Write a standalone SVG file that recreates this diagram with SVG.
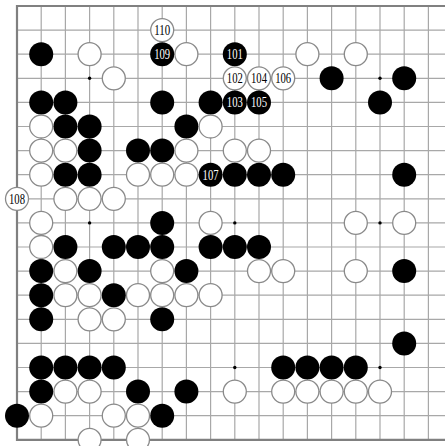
<svg xmlns="http://www.w3.org/2000/svg" width="445" height="446" viewBox="0 0 445 446">
<style>
.g{stroke:#a8a8a8;stroke-width:1.2;fill:none}
.e{stroke:#808080;stroke-width:2.2;fill:none}
.b{fill:#000}
.w{fill:#fff;stroke:#8a8a8a;stroke-width:1.3}
.h{fill:#000}
.t{font-family:"Liberation Serif",serif;font-size:14px;text-anchor:middle}
.tb{fill:#fff}
.tw{fill:#000}
</style>
<rect width="445" height="446" fill="#fff"/>
<g id="grid">
<path class="g" d="M17,30.1H445M17,54.2H445M17,78.3H445M17,102.4H445M17,126.5H445M17,150.6H445M17,174.7H445M17,198.8H445M17,222.9H445M17,247H445M17,271.1H445M17,295.2H445M17,319.3H445M17,343.4H445M17,367.5H445M17,391.6H445M17,415.7H445"/>
<path class="g" d="M41.2,6V439.8M65.4,6V439.8M89.6,6V439.8M113.8,6V439.8M138,6V439.8M162.2,6V439.8M186.4,6V439.8M210.6,6V439.8M234.8,6V439.8M259,6V439.8M283.2,6V439.8M307.4,6V439.8M331.6,6V439.8M355.8,6V439.8M380,6V439.8M404.2,6V439.8M428.4,6V439.8"/>
<path class="e" d="M445,6H17V439.8H445"/>
<g class="h">
<circle cx="89.6" cy="78.3" r="1.7"/><circle cx="380" cy="78.3" r="1.7"/>
<circle cx="89.6" cy="222.9" r="1.7"/><circle cx="234.8" cy="222.9" r="1.7"/><circle cx="380" cy="222.9" r="1.7"/>
<circle cx="89.6" cy="367.5" r="1.7"/><circle cx="234.8" cy="367.5" r="1.7"/><circle cx="380" cy="367.5" r="1.7"/>
</g>
</g>
<g id="connectors"/>
<g id="black-stones" class="b">
<circle cx="41.2" cy="54.2" r="12"/>
<circle cx="331.6" cy="78.3" r="12"/><circle cx="404.2" cy="78.3" r="12"/>
<circle cx="41.2" cy="102.4" r="12"/><circle cx="65.4" cy="102.4" r="12"/><circle cx="162.2" cy="102.4" r="12"/><circle cx="210.6" cy="102.4" r="12"/><circle cx="380" cy="102.4" r="12"/>
<circle cx="65.4" cy="126.5" r="12"/><circle cx="89.6" cy="126.5" r="12"/><circle cx="186.4" cy="126.5" r="12"/>
<circle cx="89.6" cy="150.6" r="12"/><circle cx="138" cy="150.6" r="12"/><circle cx="162.2" cy="150.6" r="12"/>
<circle cx="65.4" cy="174.7" r="12"/><circle cx="89.6" cy="174.7" r="12"/><circle cx="234.8" cy="174.7" r="12"/><circle cx="259" cy="174.7" r="12"/><circle cx="283.2" cy="174.7" r="12"/><circle cx="404.2" cy="174.7" r="12"/>
<circle cx="162.2" cy="222.9" r="12"/>
<circle cx="65.4" cy="247" r="12"/><circle cx="113.8" cy="247" r="12"/><circle cx="138" cy="247" r="12"/><circle cx="162.2" cy="247" r="12"/><circle cx="210.6" cy="247" r="12"/><circle cx="234.8" cy="247" r="12"/><circle cx="259" cy="247" r="12"/>
<circle cx="41.2" cy="271.1" r="12"/><circle cx="89.6" cy="271.1" r="12"/><circle cx="186.4" cy="271.1" r="12"/><circle cx="404.2" cy="271.1" r="12"/>
<circle cx="41.2" cy="295.2" r="12"/><circle cx="113.8" cy="295.2" r="12"/>
<circle cx="41.2" cy="319.3" r="12"/><circle cx="162.2" cy="319.3" r="12"/>
<circle cx="404.2" cy="343.4" r="12"/>
<circle cx="41.2" cy="367.5" r="12"/><circle cx="65.4" cy="367.5" r="12"/><circle cx="89.6" cy="367.5" r="12"/><circle cx="113.8" cy="367.5" r="12"/><circle cx="283.2" cy="367.5" r="12"/><circle cx="307.4" cy="367.5" r="12"/><circle cx="331.6" cy="367.5" r="12"/><circle cx="355.8" cy="367.5" r="12"/>
<circle cx="41.2" cy="391.6" r="12"/><circle cx="138" cy="391.6" r="12"/><circle cx="186.4" cy="391.6" r="12"/>
<circle cx="17" cy="415.7" r="12"/><circle cx="162.2" cy="415.7" r="12"/>
</g>
<g id="white-stones" class="w">
<circle cx="89.6" cy="54.2" r="11.5"/><circle cx="186.4" cy="54.2" r="11.5"/><circle cx="307.4" cy="54.2" r="11.5"/><circle cx="355.8" cy="54.2" r="11.5"/>
<circle cx="113.8" cy="78.3" r="11.5"/>
<circle cx="41.2" cy="126.5" r="11.5"/><circle cx="210.6" cy="126.5" r="11.5"/>
<circle cx="41.2" cy="150.6" r="11.5"/><circle cx="65.4" cy="150.6" r="11.5"/><circle cx="186.4" cy="150.6" r="11.5"/><circle cx="234.8" cy="150.6" r="11.5"/><circle cx="259" cy="150.6" r="11.5"/>
<circle cx="41.2" cy="174.7" r="11.5"/><circle cx="138" cy="174.7" r="11.5"/><circle cx="162.2" cy="174.7" r="11.5"/><circle cx="186.4" cy="174.7" r="11.5"/>
<circle cx="65.4" cy="198.8" r="11.5"/><circle cx="89.6" cy="198.8" r="11.5"/><circle cx="113.8" cy="198.8" r="11.5"/>
<circle cx="41.2" cy="222.9" r="11.5"/><circle cx="210.6" cy="222.9" r="11.5"/><circle cx="355.8" cy="222.9" r="11.5"/><circle cx="404.2" cy="222.9" r="11.5"/>
<circle cx="41.2" cy="247" r="11.5"/>
<circle cx="65.4" cy="271.1" r="11.5"/><circle cx="162.2" cy="271.1" r="11.5"/><circle cx="259" cy="271.1" r="11.5"/><circle cx="283.2" cy="271.1" r="11.5"/><circle cx="355.8" cy="271.1" r="11.5"/>
<circle cx="65.4" cy="295.2" r="11.5"/><circle cx="89.6" cy="295.2" r="11.5"/><circle cx="138" cy="295.2" r="11.5"/><circle cx="162.2" cy="295.2" r="11.5"/><circle cx="186.4" cy="295.2" r="11.5"/><circle cx="210.6" cy="295.2" r="11.5"/>
<circle cx="89.6" cy="319.3" r="11.5"/><circle cx="113.8" cy="319.3" r="11.5"/>
<circle cx="65.4" cy="391.6" r="11.5"/><circle cx="89.6" cy="391.6" r="11.5"/><circle cx="234.8" cy="391.6" r="11.5"/><circle cx="283.2" cy="391.6" r="11.5"/><circle cx="307.4" cy="391.6" r="11.5"/><circle cx="331.6" cy="391.6" r="11.5"/><circle cx="355.8" cy="391.6" r="11.5"/><circle cx="380" cy="391.6" r="11.5"/>
<circle cx="41.2" cy="415.7" r="11.5"/><circle cx="113.8" cy="415.7" r="11.5"/><circle cx="138" cy="415.7" r="11.5"/>
<circle cx="89.6" cy="439.8" r="11.5"/><circle cx="138" cy="439.8" r="11.5"/>
</g>
<g id="m101"><circle class="b" cx="234.8" cy="54.2" r="12"/><text class="t tb" x="234.8" y="59" textLength="16" lengthAdjust="spacingAndGlyphs">101</text></g>
<g id="m102"><circle class="w" cx="234.8" cy="78.3" r="11.5"/><text class="t tw" x="234.8" y="83.1" textLength="16" lengthAdjust="spacingAndGlyphs">102</text></g>
<g id="m103"><circle class="b" cx="234.8" cy="102.4" r="12"/><text class="t tb" x="234.8" y="107.2" textLength="16" lengthAdjust="spacingAndGlyphs">103</text></g>
<g id="m104"><circle class="w" cx="259" cy="78.3" r="11.5"/><text class="t tw" x="259" y="83.1" textLength="16" lengthAdjust="spacingAndGlyphs">104</text></g>
<g id="m105"><circle class="b" cx="259" cy="102.4" r="12"/><text class="t tb" x="259" y="107.2" textLength="16" lengthAdjust="spacingAndGlyphs">105</text></g>
<g id="m106"><circle class="w" cx="283.2" cy="78.3" r="11.5"/><text class="t tw" x="283.2" y="83.1" textLength="16" lengthAdjust="spacingAndGlyphs">106</text></g>
<g id="m107"><circle class="b" cx="210.6" cy="174.7" r="12"/><text class="t tb" x="210.6" y="179.5" textLength="16" lengthAdjust="spacingAndGlyphs">107</text></g>
<g id="m108"><circle class="w" cx="17" cy="198.8" r="11.5"/><text class="t tw" x="17" y="203.6" textLength="16" lengthAdjust="spacingAndGlyphs">108</text></g>
<g id="m109"><circle class="b" cx="162.2" cy="54.2" r="12"/><text class="t tb" x="162.2" y="59" textLength="16" lengthAdjust="spacingAndGlyphs">109</text></g>
<g id="m110"><circle class="w" cx="162.2" cy="30.1" r="11.5"/><text class="t tw" x="162.2" y="34.9" textLength="16" lengthAdjust="spacingAndGlyphs">110</text></g>
</svg>
